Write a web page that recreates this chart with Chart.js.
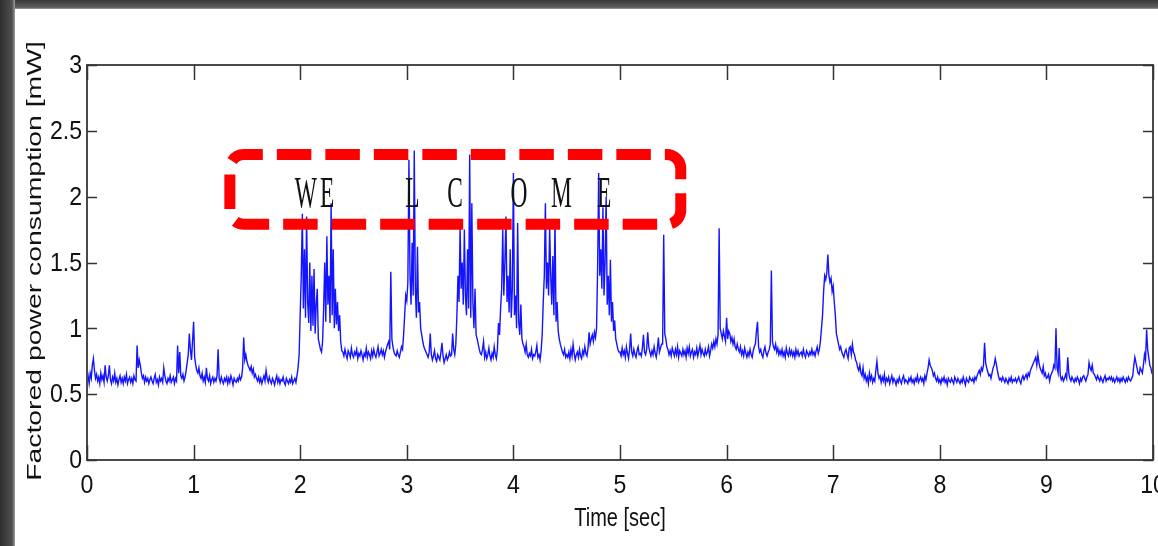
<!DOCTYPE html>
<html>
<head>
<meta charset="utf-8">
<script src="https://cdn.jsdelivr.net/npm/chart.js@4"></script>
<style>
  html, body { margin: 0; padding: 0; background: #fff; }
  canvas { display: block; }
</style>
</head>
<body>
<canvas id="powerChart" width="1158" height="546"></canvas>
<script>
// 1. DATA (power in 1/100 mW, one sample every 10 ms)

const sampleStep = 0.01;

const powerSec0 = [
  60,64,58,66,62,72,77,68,62,65, 60,63,58,66,61,64,59,72,63,60,
  64,72,61,58,63,60,66,59,62,57, 61,64,59,62,58,63,60,65,58,61,
  63,59,62,58,64,61,60,87,70,76, 72,66,62,64,59,63,60,62,58,61,
  63,60,58,62,65,59,61,57,63,60, 62,59,70,64,60,58,62,60,64,59,
  61,63,58,62,60,87,66,82,64,62, 65,60,63,68,74,80,96,84,76,90
];
const powerSec1 = [
  105,78,72,68,66,70,64,62,66,60, 63,59,70,62,60,64,58,61,63,59,
  62,60,64,84,62,59,63,60,58,62, 60,63,58,62,59,64,61,57,62,60,
  59,62,60,64,61,63,70,93,76,80, 75,72,70,68,71,66,69,63,65,62,
  60,63,59,62,58,61,64,60,68,62, 59,63,60,58,62,60,57,61,64,59,
  62,58,61,60,63,59,57,62,60,58, 61,59,63,58,60,62,59,64,70,80
];
const powerSec2 = [
  111,140,187,115,160,108,185,120,104,150, 98,140,102,145,96,118,130,92,88,84,
  82,90,115,150,105,170,118,140,104,195, 110,160,100,130,103,120,98,110,90,83,
  82,79,84,80,77,83,81,78,85,80, 78,82,80,84,77,81,79,83,80,76,
  81,79,85,78,82,80,77,83,79,84, 80,78,82,86,79,81,84,80,83,78,
  82,85,88,90,84,143,92,86,82,80, 79,83,80,78,82,86,84,95,110,125
];
const powerSec3 = [
  121,135,228,140,118,165,125,235,130,108, 162,112,120,100,95,90,86,84,82,80,
  78,82,96,80,76,79,83,77,75,80, 78,76,82,89,79,74,77,80,76,78,
  82,79,80,96,84,80,88,110,140,120, 177,130,150,118,175,125,110,160,115,232,
  108,195,120,100,130,95,92,88,84,81, 80,84,90,78,82,77,80,85,79,76,
  81,78,86,80,77,84,104,95,115,130, 175,125,150,185,120,140,112,160,108,130
];
const powerSec4 = [
  218,110,125,100,180,105,95,118,92,88, 86,82,88,80,78,81,79,84,77,80,
  79,82,87,78,80,76,83,95,120,140, 195,130,150,125,177,140,118,155,110,183,
  105,120,98,92,88,85,82,80,84,78, 80,78,82,77,84,79,88,81,76,80,
  82,78,84,79,77,83,80,86,81,79, 85,97,88,92,95,90,97,93,100,145,
  218,140,160,130,192,125,150,200,118,140, 110,152,105,120,98,106,92,88,84,82
];
const powerSec5 = [
  82,79,85,80,83,78,86,81,77,84, 96,82,79,84,80,78,83,86,80,81,
  79,85,95,82,80,84,97,86,82,79, 83,80,86,81,78,84,93,82,85,88,
  88,171,96,92,86,84,80,83,79,85, 82,79,84,80,86,78,83,81,79,84,
  80,83,78,85,81,86,79,82,84,78, 82,80,85,79,83,87,80,84,81,79,
  84,80,82,86,79,83,88,85,90,86, 92,88,95,176,100,96,92,98,94,90
];
const powerSec6 = [
  108,92,98,96,90,93,88,92,86,84, 88,84,82,86,80,83,79,85,81,78,
  82,79,84,80,78,83,86,88,98,105, 86,82,84,80,78,83,86,81,79,82,
  84,88,144,90,86,84,88,82,85,80, 83,80,84,79,82,78,85,81,79,84,
  80,83,79,82,78,84,80,83,79,81, 82,79,84,80,78,83,81,79,82,80,
  84,80,82,79,83,86,81,84,90,100, 110,128,140,137,142,156,140,135,138,128
];
const powerSec7 = [
  132,120,110,96,92,88,84,86,82,80, 78,82,84,80,77,85,86,80,88,82,
  80,76,74,70,68,72,66,64,70,62, 65,60,63,58,66,61,64,59,62,60,
  68,75,66,62,64,59,63,60,65,58, 62,60,63,58,61,64,59,62,60,57,
  61,59,63,60,58,62,64,59,61,60, 58,62,60,63,59,61,58,62,60,64,
  59,61,63,60,62,58,64,61,66,70, 76,72,70,68,64,66,62,60,63,59
];
const powerSec8 = [
  61,58,62,60,63,59,61,57,62,60, 59,62,60,58,63,61,59,62,60,58,
  61,59,63,60,57,62,60,59,63,61, 60,62,59,63,61,64,66,68,65,70,
  68,72,89,74,70,67,64,65,62,66, 70,72,77,73,68,64,61,62,60,63,
  61,59,62,60,58,62,60,63,59,61, 60,62,59,61,63,60,58,62,64,61,
  63,65,62,66,64,68,70,72,74,76, 78,72,80,74,70,68,66,71,64,66
];
const powerSec9 = [
  62,63,65,60,64,66,68,72,70,100, 70,66,85,64,61,63,60,62,65,62,
  78,66,62,60,63,61,59,62,60,63, 61,58,62,60,63,64,62,60,63,65,
  74,70,68,72,66,65,63,61,64,62, 60,63,61,59,62,64,60,62,61,63,
  61,63,60,62,59,61,63,60,62,59, 62,60,63,61,59,62,60,63,61,60,
  62,64,72,78,74,70,66,65,70,68, 66,72,80,76,99,84,78,72,70,66,
  65
];

const xTickValues = [0, 1, 2, 3, 4, 5, 6, 7, 8, 9, 10];
const xTickLabels = ['0', '1', '2', '3', '4', '5', '6', '7', '8', '9', '10'];
const yTickValues = [0, 0.5, 1, 1.5, 2, 2.5, 3];
const yTickLabels = ['0', '0.5', '1', '1.5', '2', '2.5', '3'];

const xTitle = 'Time [sec]';
const yTitle = 'Factored power consumption [mW]';

// box around the marked bursts, in data units (sec, mW)
const markBox = [1.34, 5.57, 1.79, 2.32];
const markText = 'WE   L C  O M E';

// 2. HELPERS

function buildPoints() {
  const all = [].concat(powerSec0, powerSec1, powerSec2, powerSec3, powerSec4,
    powerSec5, powerSec6, powerSec7, powerSec8, powerSec9);
  return all.map((v, i) => ({ x: i * sampleStep, y: v / 100 }));
}

// draws text stretched like the original export
function stretchText(ctx, text, x, y, sx, sy) {
  ctx.save();
  ctx.translate(x, y);
  ctx.scale(sx, sy);
  ctx.fillText(text, 0, 0);
  ctx.restore();
}

// 3. PLUGIN: window frame, axes box, inward ticks, labels, marker box

const matlabLook = {
  id: 'matlabLook',
  beforeDraw(chart) {
    const ctx = chart.ctx;
    ctx.save();
    ctx.fillStyle = '#ffffff';
    ctx.fillRect(0, 0, chart.width, chart.height);

    let g = ctx.createLinearGradient(0, 0, 0, 9);
    g.addColorStop(0, '#3a3a3a');
    g.addColorStop(0.8, '#5c5c5c');
    g.addColorStop(1, '#9a9a9a');
    ctx.fillStyle = g;
    ctx.fillRect(0, 0, chart.width, 9);

    g = ctx.createLinearGradient(0, 0, 15, 0);
    g.addColorStop(0, '#2e2e2e');
    g.addColorStop(0.8, '#4e4e4e');
    g.addColorStop(1, '#a0a0a0');
    ctx.fillStyle = g;
    ctx.fillRect(0, 0, 15, chart.height);
    ctx.restore();
  },
  afterDraw(chart) {
    const ctx = chart.ctx;
    const xs = chart.scales.x;
    const ys = chart.scales.y;
    const a = chart.chartArea;

    ctx.save();

    // axes box
    ctx.strokeStyle = '#4a4a4a';
    ctx.lineWidth = 2;
    ctx.strokeRect(a.left, a.top, a.right - a.left, a.bottom - a.top);

    // inward ticks
    ctx.strokeStyle = '#333333';
    ctx.lineWidth = 1.5;
    ctx.beginPath();
    xTickValues.forEach(v => {
      const px = Math.round(xs.getPixelForValue(v)) + 0.5;
      ctx.moveTo(px, a.bottom); ctx.lineTo(px, a.bottom - 15);
      ctx.moveTo(px, a.top); ctx.lineTo(px, a.top + 15);
    });
    yTickValues.forEach(v => {
      const py = Math.round(ys.getPixelForValue(v)) + 0.5;
      ctx.moveTo(a.left, py); ctx.lineTo(a.left + 10, py);
      ctx.moveTo(a.right, py); ctx.lineTo(a.right - 10, py);
    });
    ctx.stroke();

    // tick labels
    ctx.fillStyle = '#111111';
    ctx.font = '22px "Liberation Sans", Arial, sans-serif';
    ctx.textAlign = 'right';
    ctx.textBaseline = 'middle';
    yTickValues.forEach((v, i) => {
      stretchText(ctx, yTickLabels[i], a.left - 5, ys.getPixelForValue(v) + 1, 1.05, 1.2);
    });
    ctx.textAlign = 'center';
    xTickValues.forEach((v, i) => {
      stretchText(ctx, xTickLabels[i], xs.getPixelForValue(v), a.bottom + 26, 1.05, 1.2);
    });

    // axis titles
    ctx.font = '20px "Liberation Sans", Arial, sans-serif';
    stretchText(ctx, xTitle, (a.left + a.right) / 2, 519, 1, 1.3);

    ctx.save();
    ctx.translate(35, 261);
    ctx.rotate(-Math.PI / 2);
    ctx.font = '21px "Liberation Sans", Arial, sans-serif';
    stretchText(ctx, yTitle, 0, 0, 1.35, 1);
    ctx.restore();

    // dashed marker box
    const bl = xs.getPixelForValue(markBox[0]);
    const br = xs.getPixelForValue(markBox[1]);
    const bb = ys.getPixelForValue(markBox[2]);
    const bt = ys.getPixelForValue(markBox[3]);
    const r = 14;
    ctx.strokeStyle = '#ff0000';
    ctx.lineWidth = 11;
    ctx.setLineDash([34.5, 14]);
    ctx.lineDashOffset = 15.5;
    ctx.beginPath();
    ctx.moveTo(bl + r, bt);
    ctx.lineTo(br - r, bt);
    ctx.arcTo(br, bt, br, bt + r, r);
    ctx.lineTo(br, bb - r);
    ctx.arcTo(br, bb, br - r, bb, r);
    ctx.lineTo(bl + r, bb);
    ctx.arcTo(bl, bb, bl, bb - r, r);
    ctx.lineTo(bl, bt + r);
    ctx.arcTo(bl, bt, bl + r, bt, r);
    ctx.closePath();
    ctx.stroke();
    ctx.setLineDash([]);

    // marker text, one character per monospace cell (Courier-like serif)
    ctx.fillStyle = '#111111';
    ctx.font = '30px "Liberation Serif", "DejaVu Serif", serif';
    ctx.textAlign = 'center';
    ctx.textBaseline = 'alphabetic';
    const cell = 21.3;
    const startX = bl + 76;
    markText.split('').forEach((ch, i) => {
      if (ch !== ' ') stretchText(ctx, ch, startX + i * cell, 207, 0.78, 1.45);
    });

    ctx.restore();
  }
};

// 4. CHART

const ctx = document.getElementById('powerChart').getContext('2d');
new Chart(ctx, {
  type: 'line',
  data: {
    datasets: [{
      data: buildPoints(),
      borderColor: '#1414ff',
      borderWidth: 1.4,
      pointRadius: 0,
      tension: 0,
      fill: false
    }]
  },
  options: {
    responsive: false,
    animation: false,
    layout: { padding: { left: 87, right: 5, top: 65, bottom: 86 } },
    plugins: { legend: { display: false }, tooltip: { enabled: false } },
    scales: {
      x: {
        type: 'linear', min: 0, max: 10,
        ticks: { display: false, stepSize: 1 },
        grid: { display: false }, border: { display: false },
        afterFit: s => { s.height = 0; }
      },
      y: {
        min: 0, max: 3,
        ticks: { display: false, stepSize: 0.5 },
        grid: { display: false }, border: { display: false },
        afterFit: s => { s.width = 0; }
      }
    }
  },
  plugins: [matlabLook]
});
</script>
</body>
</html>
